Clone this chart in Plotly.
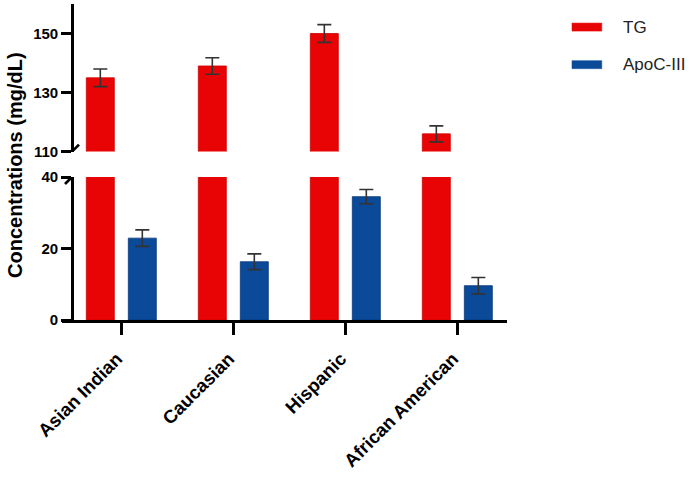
import plotly.graph_objects as go

categories = ["Asian Indian", "Caucasian", "Hispanic", "African American"]
series_names = ["TG", "ApoC-III"]
tg_values = [135, 139, 150, 116]
tg_errors = [3.0, 2.8, 3.0, 2.7]
apoc_values = [22.9, 16.3, 34.5, 9.6]
apoc_errors = [2.3, 2.2, 2.0, 2.3]
lower_ticks = [0, 20, 40]
upper_ticks = [110, 130, 150]
lower_range = [0, 40]
upper_range = [110, 160]

RED = "#E80404"
BLUE = "#0B4A98"
ERR = "#333333"
FONT = "Arial, Liberation Sans, sans-serif"

BAR_W = 0.25
RED_OFF = -0.31
BLUE_OFF = 0.065

err_style = dict(type="data", visible=True, color=ERR, thickness=1.6, width=7)

fig = go.Figure()
# lower segment
fig.add_trace(go.Bar(x=categories, y=tg_values, name=series_names[0], marker=dict(color=RED, line=dict(color="#D00000", width=0.8)),
                     width=BAR_W, offset=RED_OFF, xaxis="x", yaxis="y", showlegend=False))
fig.add_trace(go.Bar(x=categories, y=apoc_values, name=series_names[1], marker=dict(color=BLUE, line=dict(color="#08387A", width=0.8)),
                     width=BAR_W, offset=BLUE_OFF, error_y=dict(array=apoc_errors, **err_style),
                     xaxis="x", yaxis="y", showlegend=False))
# upper segment
fig.add_trace(go.Bar(x=categories, y=tg_values, name=series_names[0], marker=dict(color=RED, line=dict(color="#D00000", width=0.8)),
                     width=BAR_W, offset=RED_OFF, error_y=dict(array=tg_errors, **err_style),
                     xaxis="x", yaxis="y2", showlegend=False))

ypos = 10 / 445
axis_common = dict(showgrid=False, zeroline=False, showline=True, linecolor="black", linewidth=2.6,
                   ticks="outside", ticklen=10, tickwidth=2.6, tickcolor="black",
                   tickfont=dict(family=FONT, size=15, color="black", weight="bold"),
                   anchor="free", position=ypos, automargin=False)

fig.update_layout(
    width=689, height=477,
    margin=dict(l=62, r=182, t=4, b=157),
    paper_bgcolor="white", plot_bgcolor="white",
    barmode="overlay",
    xaxis=dict(domain=[0, 1], range=[-0.527, 3.446], showgrid=False, zeroline=False,
               showline=True, linecolor="black", linewidth=2.6,
               ticks="outside", ticklen=12, tickwidth=2.6, tickcolor="black",
               tickangle=-45, ticklabelstandoff=6, ticklabelshift=-4, automargin=False,
               tickfont=dict(family=FONT, size=18.5, color="black", weight="bold")),
    yaxis=dict(domain=[0, 0.4525], range=lower_range, tickvals=lower_ticks, **axis_common),
    yaxis2=dict(domain=[0.533, 1], range=upper_range, tickvals=upper_ticks, **axis_common),
    showlegend=False,
)

# axis break marks
for yref, yval in (("y", lower_range[1]), ("y2", upper_range[0])):
    fig.add_shape(type="line", xref="paper", xsizemode="pixel", xanchor=ypos, x0=-7, x1=7,
                  yref=yref, ysizemode="pixel", yanchor=yval, y0=-7, y1=7,
                  line=dict(color="black", width=2.6))

# y-axis title
fig.add_annotation(text="Concentrations (mg/dL)", xref="paper", yref="paper", x=-0.106, y=0.49,
                   textangle=-90, showarrow=False, xanchor="center", yanchor="middle",
                   font=dict(family=FONT, size=20, color="black", weight="bold"))

# custom legend
legend_colors = [RED, BLUE]
legend_y = [0.927, 0.808]
for name, col, ly in zip(series_names, legend_colors, legend_y):
    fig.add_shape(type="rect", xref="paper", yref="paper", x0=1.146, x1=1.213,
                  ysizemode="pixel", yanchor=ly, y0=-4, y1=4,
                  fillcolor=col, line=dict(color=col, width=0.5))
    fig.add_annotation(text=name, xref="paper", yref="paper", x=1.256, y=ly, xanchor="left",
                       yanchor="middle", showarrow=False,
                       font=dict(family=FONT, size=17, color="#222222"))

fig.write_html("out.html", config={"displayModeBar": False},
               post_script="document.body.style.margin='0px';")
